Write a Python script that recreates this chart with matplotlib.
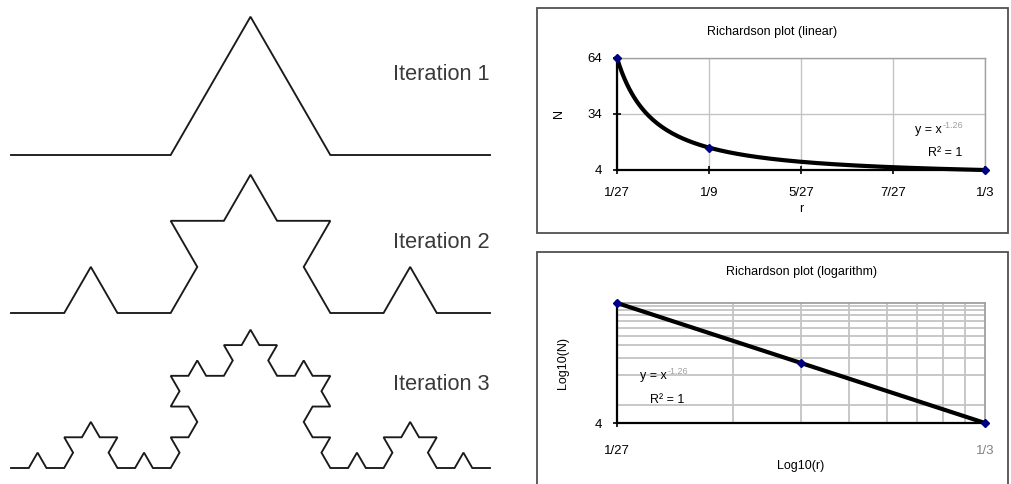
import numpy as np
import matplotlib
matplotlib.use("Agg")
import matplotlib.pyplot as plt
from matplotlib.patches import Rectangle
from matplotlib.ticker import FixedLocator, NullFormatter

plt.rcParams['font.family'] = ['Liberation Sans', 'DejaVu Sans']

# ---- data ----
iterations = [1, 2, 3]
iteration_labels = ["Iteration 1", "Iteration 2", "Iteration 3"]
r_values = [1/27, 1/9, 1/3]
N_values = [64, 16, 4]
lin_xticks = [1/27, 1/9, 5/27, 7/27, 1/3]
lin_xticklabels = ["1/27", "1/9", "5/27", "7/27", "1/3"]
lin_yticks = [4, 34, 64]
lin_yticklabels = ["4", "34", "64"]
log_x_minor = [k/27 for k in range(2, 9)]
log_y_minor = [6, 12, 18, 24, 30, 36, 42, 48, 54, 60]
exponent_label = "-1.26"

W, H = 1011, 484
fig = plt.figure(figsize=(W/100, H/100), dpi=100)


def koch(n):
    pts = [np.array([0.0, 0.0]), np.array([1.0, 0.0])]
    for _ in range(n):
        new = [pts[0]]
        for a, b in zip(pts[:-1], pts[1:]):
            d = (b - a) / 3
            p1 = a + d
            p3 = a + 2 * d
            rot = np.array([d[0] * 0.5 - d[1] * np.sqrt(3) / 2,
                            d[0] * np.sqrt(3) / 2 + d[1] * 0.5])
            p2 = p1 + rot
            new += [p1, p2, p3, b]
        pts = new
    return np.array(pts)


# ---- Koch curves ----
axk = fig.add_axes([0, 0, 510/W, 1])
axk.set_xlim(0, 510)
axk.set_ylim(H, 0)
axk.axis('off')
baselines = [155, 313, 468]
text_y = [75, 242, 385]
for it, lab, b, ty in zip(iterations, iteration_labels, baselines, text_y):
    p = koch(it)
    axk.plot(11 + 479 * p[:, 0], b - 479 * p[:, 1], color='#1a1a1a', lw=1.35,
             solid_joinstyle='miter')
    axk.text(393, ty, lab, fontsize=15.7, color='#3a3a3a', va='center', ha='left')

# ---- chart boxes ----
fig.patches.append(Rectangle((537/W, 1 - 233/H), 471/W, 225/H, transform=fig.transFigure,
                             fill=False, ec='#505050', lw=1.3))
fig.patches.append(Rectangle((537/W, -0.05), 471/W, (1 - 252/H) + 0.05, transform=fig.transFigure,
                             fill=False, ec='#505050', lw=1.3))

grid_c = '#c4c4c4'
lbl_fs = 9
tick_fs = 9.5

# fit trend line from data
coef = np.polyfit(np.log(r_values), np.log(N_values), 1)

# ---- linear plot ----
ax1 = fig.add_axes([617/W, 1 - 170/H, 368/W, 112/H])
ax1.set_xlim(r_values[0], r_values[-1])
ax1.set_ylim(min(N_values), max(N_values))
rr = np.linspace(r_values[0], r_values[-1], 300)
ax1.plot(rr, np.exp(coef[1]) * rr ** coef[0], color='black', lw=3.0, zorder=3, clip_on=False)
ax1.plot(r_values, N_values, linestyle='none', marker='D', ms=4.5, color='#000080',
         zorder=4, clip_on=False)
ax1.set_xticks(lin_xticks)
ax1.set_xticklabels(lin_xticklabels)
ax1.set_yticks(lin_yticks)
ax1.set_yticklabels(lin_yticklabels)
ax1.grid(True, color=grid_c, lw=1.0)
ax1.tick_params(direction='inout', length=6, width=1.2, labelsize=tick_fs, pad=8)
ax1.tick_params(axis='x', pad=9)
for s in ['left', 'bottom']:
    ax1.spines[s].set_color('black')
    ax1.spines[s].set_linewidth(1.6)
for s in ['top', 'right']:
    ax1.spines[s].set_color('#a0a0a0')
    ax1.spines[s].set_linewidth(1.0)
ax1.set_ylabel("N", fontsize=lbl_fs, labelpad=16)
ax1.set_xlabel("r", fontsize=lbl_fs, labelpad=3)
fig.text(772/W, 1 - 32/H, "Richardson plot (linear)", fontsize=lbl_fs, ha='center', va='center')
fig.text(915/W, 1 - 130/H, "y = x", fontsize=lbl_fs, ha='left', va='center')
fig.text(943/W, 1 - 126/H, exponent_label, fontsize=6.5, ha='left', va='center', color='#a0a0a0')
fig.text(945/W, 1 - 153/H, "R² = 1", fontsize=lbl_fs, ha='center', va='center')

# ---- log plot ----
ax2 = fig.add_axes([617/W, 1 - 423/H, 368/W, 120/H])
ax2.set_xscale('log')
ax2.set_yscale('log')
ax2.set_xlim(r_values[0], r_values[-1])
ax2.set_ylim(min(N_values), max(N_values))
ax2.plot(rr, np.exp(coef[1]) * rr ** coef[0], color='black', lw=3.0, zorder=3, clip_on=False)
ax2.plot(r_values, N_values, linestyle='none', marker='D', ms=4.5, color='#000080',
         zorder=4, clip_on=False)
ax2.xaxis.set_major_locator(FixedLocator([r_values[0], r_values[-1]]))
ax2.set_xticklabels(["1/27", "1/3"])
ax2.xaxis.set_minor_locator(FixedLocator(log_x_minor))
ax2.xaxis.set_minor_formatter(NullFormatter())
ax2.yaxis.set_major_locator(FixedLocator([min(N_values)]))
ax2.set_yticklabels([str(min(N_values))])
ax2.yaxis.set_minor_locator(FixedLocator(log_y_minor))
ax2.yaxis.set_minor_formatter(NullFormatter())
ax2.grid(True, which='minor', color=grid_c, lw=1.3)
ax2.tick_params(which='major', direction='inout', length=6, width=1.2, labelsize=tick_fs, pad=8)
ax2.tick_params(axis='x', which='major', pad=13)
ax2.tick_params(which='minor', length=0)
ax2.get_xticklabels()[1].set_color('#808080')
for s in ['left', 'bottom']:
    ax2.spines[s].set_color('black')
    ax2.spines[s].set_linewidth(1.6)
for s in ['top', 'right']:
    ax2.spines[s].set_color('#a0a0a0')
    ax2.spines[s].set_linewidth(1.3)
ax2.set_ylabel("Log10(N)", fontsize=lbl_fs, labelpad=18)
ax2.set_xlabel("Log10(r)", fontsize=lbl_fs, labelpad=2)
fig.text(802/W, 1 - 272/H, "Richardson plot (logarithm)", fontsize=lbl_fs, ha='center', va='center')
fig.text(640/W, 1 - 376/H, "y = x", fontsize=lbl_fs, ha='left', va='center')
fig.text(668/W, 1 - 372/H, exponent_label, fontsize=6.5, ha='left', va='center', color='#a0a0a0')
fig.text(667/W, 1 - 400/H, "R² = 1", fontsize=lbl_fs, ha='center', va='center')

fig.savefig("out.png", dpi=100)
